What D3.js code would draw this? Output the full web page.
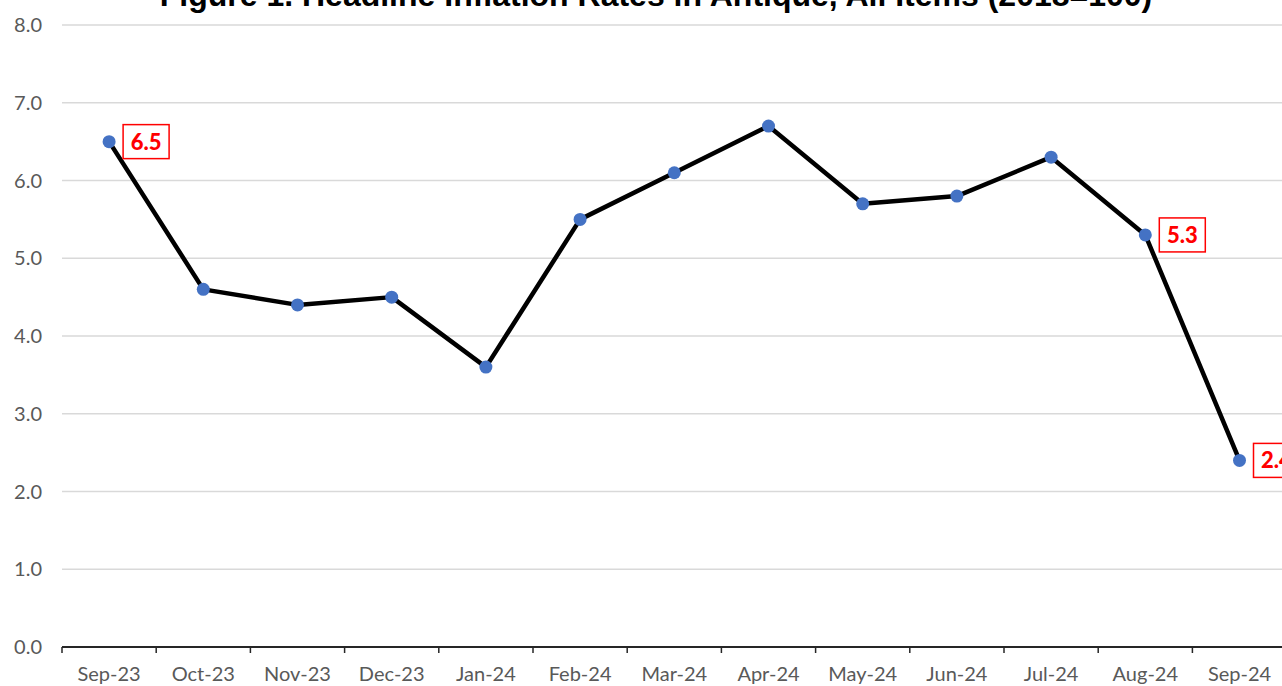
<!DOCTYPE html>
<html>
<head>
<meta charset="utf-8">
<script src="https://cdn.jsdelivr.net/npm/d3@7"></script>
<style>
  html, body { margin: 0; padding: 0; background: #fff; overflow: hidden; }
  svg { display: block; }
</style>
</head>
<body>
<div id="chart"></div>
<script>
// data
var months = ['Sep-23', 'Oct-23', 'Nov-23', 'Dec-23', 'Jan-24', 'Feb-24', 'Mar-24',
              'Apr-24', 'May-24', 'Jun-24', 'Jul-24', 'Aug-24', 'Sep-24'];
var rates = [6.5, 4.6, 4.4, 4.5, 3.6, 5.5, 6.1, 6.7, 5.7, 5.8, 6.3, 5.3, 2.4];
var labelled = ['Sep-23', 'Aug-24', 'Sep-24'];
var yTicks = [0, 1, 2, 3, 4, 5, 6, 7, 8];
var title = 'Figure 1. Headline Inflation Rates in Antique, All Items (2018=100)';

var W = 1282, H = 686;
var svg = d3.select('#chart')
   .append('svg')
   .attr('width', W)
   .attr('height', H);

// plot area runs a bit past the right edge, like the picture
var xScale = d3.scaleBand()
   .domain(months)
   .range([62, 62 + 13 * 94.2])
   .padding(0);

var yScale = d3.scaleLinear()
   .domain([0, 8])
   .range([647, 25]);

// title (top half cut off in the original too)
svg.append('text')
   .attr('x', 656)
   .attr('y', 6)
   .attr('text-anchor', 'middle')
   .attr('font-family', 'Liberation Sans, Arial, sans-serif')
   .attr('font-weight', 'bold')
   .attr('font-size', 32)
   .attr('fill', '#000')
   .text(title);

// gridlines
svg.append('g')
   .selectAll('line')
   .data(yTicks.filter(function (d) { return d > 0; }))
   .enter()
   .append('line')
   .attr('x1', 62)
   .attr('x2', W)
   .attr('y1', function (d) { return yScale(d); })
   .attr('y2', function (d) { return yScale(d); })
   .attr('stroke', '#d9d9d9')
   .attr('stroke-width', 1.5);

// y labels
svg.append('g')
   .selectAll('text')
   .data(yTicks)
   .enter()
   .append('text')
   .attr('x', 42)
   .attr('y', function (d) { return yScale(d); })
   .attr('dy', '0.35em')
   .attr('text-anchor', 'end')
   .attr('font-family', 'Lato, sans-serif')
   .attr('font-size', 20)
   .attr('fill', '#595959')
   .text(function (d) { return d.toFixed(1); });

// x axis line + ticks at the category edges
var xAxis = svg.append('g');
xAxis.append('line')
   .attr('x1', xScale.range()[0])
   .attr('x2', xScale.range()[1])
   .attr('y1', yScale(0))
   .attr('y2', yScale(0))
   .attr('stroke', '#262626')
   .attr('stroke-width', 2);

var edges = months.map(function (m) { return xScale(m); });
edges.push(xScale.range()[1]);
xAxis.selectAll('line.tick')
   .data(edges)
   .enter()
   .append('line')
   .attr('class', 'tick')
   .attr('x1', function (d) { return d; })
   .attr('x2', function (d) { return d; })
   .attr('y1', yScale(0))
   .attr('y2', yScale(0) + 6)
   .attr('stroke', '#262626')
   .attr('stroke-width', 1.5);

xAxis.selectAll('text')
   .data(months)
   .enter()
   .append('text')
   .attr('x', function (d) { return xScale(d) + xScale.bandwidth() / 2; })
   .attr('y', 681)
   .attr('text-anchor', 'middle')
   .attr('font-family', 'Lato, sans-serif')
   .attr('font-size', 20)
   .attr('fill', '#595959')
   .text(function (d) { return d; });

// line
var line = d3.line()
   .x(function (d, i) { return xScale(months[i]) + xScale.bandwidth() / 2; })
   .y(function (d) { return yScale(d); });

svg.append('path')
   .datum(rates)
   .attr('d', line)
   .attr('fill', 'none')
   .attr('stroke', '#000')
   .attr('stroke-width', 4.5)
   .attr('stroke-linejoin', 'round');

// markers
svg.append('g')
   .selectAll('circle')
   .data(rates)
   .enter()
   .append('circle')
   .attr('cx', function (d, i) { return xScale(months[i]) + xScale.bandwidth() / 2; })
   .attr('cy', function (d) { return yScale(d); })
   .attr('r', 6.5)
   .attr('fill', '#4472c4');

// boxed value labels
var labels = svg.append('g')
   .selectAll('g')
   .data(months.filter(function (m) { return labelled.indexOf(m) >= 0; }))
   .enter()
   .append('g')
   .attr('transform', function (m) {
      var i = months.indexOf(m);
      var cx = xScale(m) + xScale.bandwidth() / 2;
      return 'translate(' + (cx + 14) + ',' + yScale(rates[i]) + ')';
   });

labels.append('rect')
   .attr('x', 0)
   .attr('y', -17)
   .attr('width', 46)
   .attr('height', 34)
   .attr('fill', '#fff')
   .attr('stroke', '#ff0000')
   .attr('stroke-width', 1.5);

labels.append('text')
   .attr('x', 23)
   .attr('y', 0)
   .attr('dy', '0.36em')
   .attr('text-anchor', 'middle')
   .attr('font-family', 'Lato, sans-serif')
   .attr('font-weight', 900)
   .attr('font-size', 22)
   .attr('fill', '#ff0000')
   .text(function (m) { return rates[months.indexOf(m)].toFixed(1); });
</script>
</body>
</html>
